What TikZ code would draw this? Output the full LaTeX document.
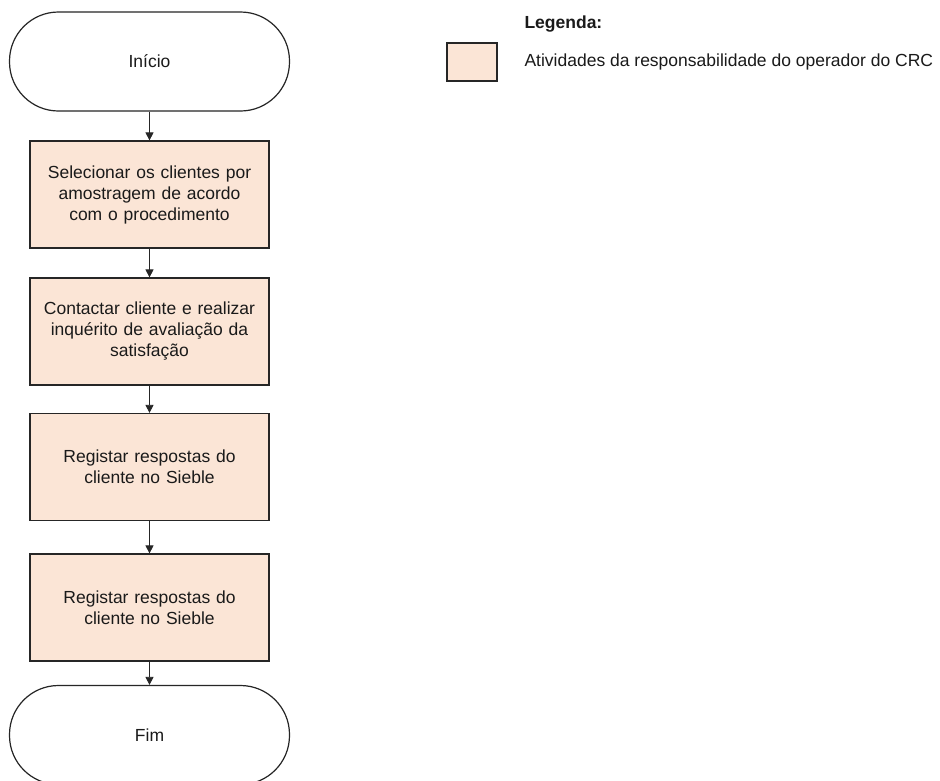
\documentclass[tikz,border=0pt]{standalone}
\usepackage{fontspec}
\setmainfont{Liberation Sans}
\usetikzlibrary{arrows.meta}
\definecolor{peach}{HTML}{FBE5D6}
\definecolor{txt}{HTML}{1A1A1A}
\definecolor{edge}{HTML}{262626}
\tikzset{
  every node/.style={font=\fontsize{17.5}{21}\selectfont, text=txt},
  terminal/.style={draw=edge, line width=1.2pt, fill=white, rounded corners=49pt,
    minimum width=280pt, minimum height=99pt, inner sep=0pt, align=center},
  activity/.style={draw=edge, line width=1.2pt, fill=peach,
    minimum width=239pt, minimum height=107pt, inner sep=0pt, text width=225pt, align=center},
  flow/.style={draw=edge, line width=0.8pt, -{Triangle[length=8pt,width=8pt]}},
  legendbox/.style={draw=edge, line width=1.2pt, fill=peach, minimum width=50pt, minimum height=38pt, inner sep=0pt},
}
\begin{document}
\begin{tikzpicture}[x=1pt,y=-1pt]
\clip (0,0) rectangle (940,780);
\fill[white] (0,0) rectangle (940,780);
\node[terminal] (inicio) at (149.5,61.5) {Início};
\node[activity] (a1) at (149.5,194.5) {Selecionar os clientes por\\amostragem de acordo\\com o procedimento};
\node[activity] (a2) at (149.5,331.5) {Contactar cliente e realizar\\inquérito de avaliação da\\satisfação};
\node[activity] (a3) at (149.5,467) {Registar respostas do\\cliente no Sieble};
\node[activity] (a4) at (149.5,607.5) {Registar respostas do\\cliente no Sieble};
\node[terminal] (fim) at (149.5,735) {Fim};
\draw[flow] (inicio.south) -- (a1.north);
\draw[flow] (a1.south) -- (a2.north);
\draw[flow] (a2.south) -- (a3.north);
\draw[flow] (a3.south) -- (a4.north);
\draw[flow] (a4.south) -- (fim.north);
\node[anchor=west, font=\bfseries\fontsize{17.5}{21}\selectfont] (legtitle) at (521,24) {Legenda:};
\node[legendbox] (legbox) at (472,62) {};
\node[anchor=west] (legtext) at (521,62) {Atividades da responsabilidade do operador do CRC};
\end{tikzpicture}
\end{document}
